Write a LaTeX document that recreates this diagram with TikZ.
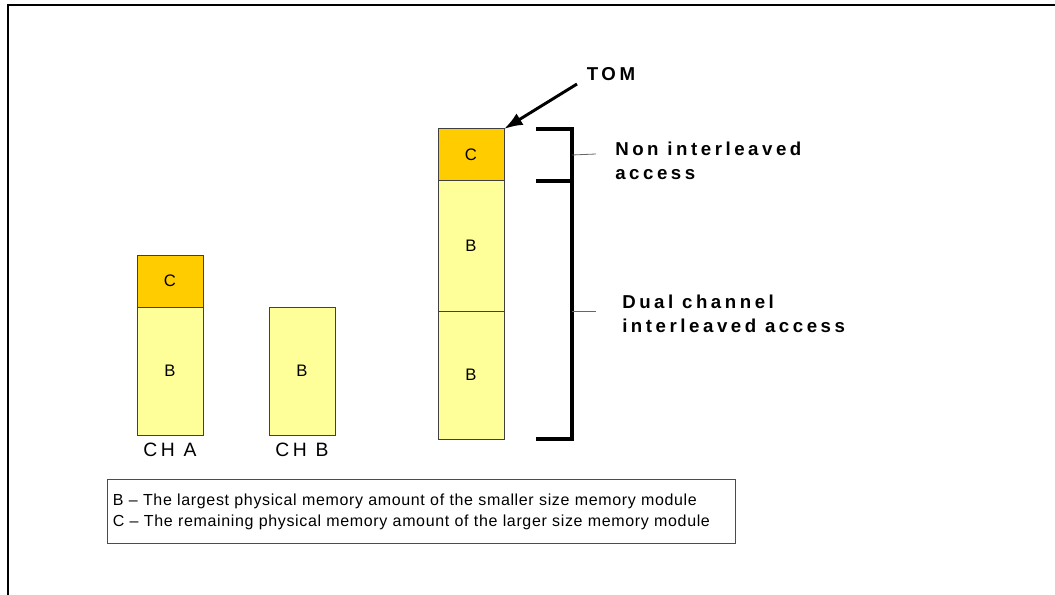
\documentclass[tikz,border=0pt]{standalone}
\usepackage{fontspec}
\setmainfont{Liberation Sans}
\newfontfamily\trackedbf[LetterSpace=19]{Liberation Sans}
\newfontfamily\trackedrm[LetterSpace=4]{Liberation Sans}
\newfontfamily\chfont[LetterSpace=18]{Liberation Sans}
\usetikzlibrary{positioning,arrows.meta}
\definecolor{memorange}{HTML}{FFCC00}
\definecolor{memyellow}{HTML}{FFFF99}

\begin{document}
\begin{tikzpicture}[x=0.75pt,y=-0.75pt,
		mem node/.style={draw=black!75,line width=0.75pt,minimum width=49.5pt,inner sep=0pt,outer sep=0pt,font=\fontsize{12.5}{14}\selectfont},
		c node/.style={mem node,fill=memorange,minimum height=39pt},
		b node/.style={mem node,fill=memyellow},
		ch node/.style={inner sep=0pt,font=\chfont\fontsize{14.5}{16}\selectfont},
		side node/.style={inner sep=0pt,align=left,anchor=north west,font=\trackedbf\bfseries\fontsize{14}{18}\selectfont},
		bracket/.style={line width=2.6pt},
		leader/.style={black!60,line width=0.6pt}]
		\useasboundingbox (0,0) rectangle (1055,595);
		\draw[line width=1.5pt] (8,595) |- (1055,5);
		% channels
		\node[c node,anchor=north west] (ac) at (137,255) {C};
		\node[b node,minimum height=96pt,below=0pt of ac] (ab) {B};
		\node[b node,minimum height=96pt,anchor=north west] (bb) at (269,307) {B};
		\node[ch node,below=6pt of ab] (cha) {CH A};
		\node[ch node,below=6pt of bb] (chb) {CH B};
		
		\node[c node,anchor=north west] (tc) at (438,129) {C};
		\node[b node,minimum height=97.5pt,below=0pt of tc] (tb1) {B};
		\node[b node,minimum height=96pt,below=0pt of tb1] (tb2) {B};
		
		\draw[bracket] ([xshift=24pt]tc.north east) -| ([xshift=51pt]tb2.south east) -- ([xshift=24pt]tb2.south east);
		\draw[bracket] ([xshift=24pt]tc.south east) -- ([xshift=51pt]tc.south east);
		\coordinate (nonend) at (596,154);
		\coordinate (dualend) at (596,311);
		\draw[leader] ([xshift=51pt]tc.east) -- (nonend);
		\draw[leader] ([xshift=51pt]tb1.south east) -- (dualend);
		\node[side node] (nonacc) at (615,142) {Non interleaved\\access};
		\node[side node] (dualacc) at (622,295) {Dual channel\\interleaved access};
		
		\node[inner sep=0pt,font=\trackedbf\bfseries\fontsize{14}{16}\selectfont] (tom) at (611,74) {TOM};
		\coordinate (tomtail) at (577,84);
		\draw[-{Latex[length=14pt,width=10pt]},line width=2.2pt] (tomtail) -- (tc.north east);
		
		\node[draw=black!70,line width=0.75pt,anchor=north west,minimum width=471pt,minimum height=48pt,text width=463pt,inner xsep=4pt,align=left,font=\trackedrm\fontsize{12}{15.75}\selectfont] (legend) at (107,479) {B \textendash{} The largest physical memory amount of the smaller size memory module\\C \textendash{} The remaining physical memory amount of the larger size memory module};
\end{tikzpicture}
\end{document}
